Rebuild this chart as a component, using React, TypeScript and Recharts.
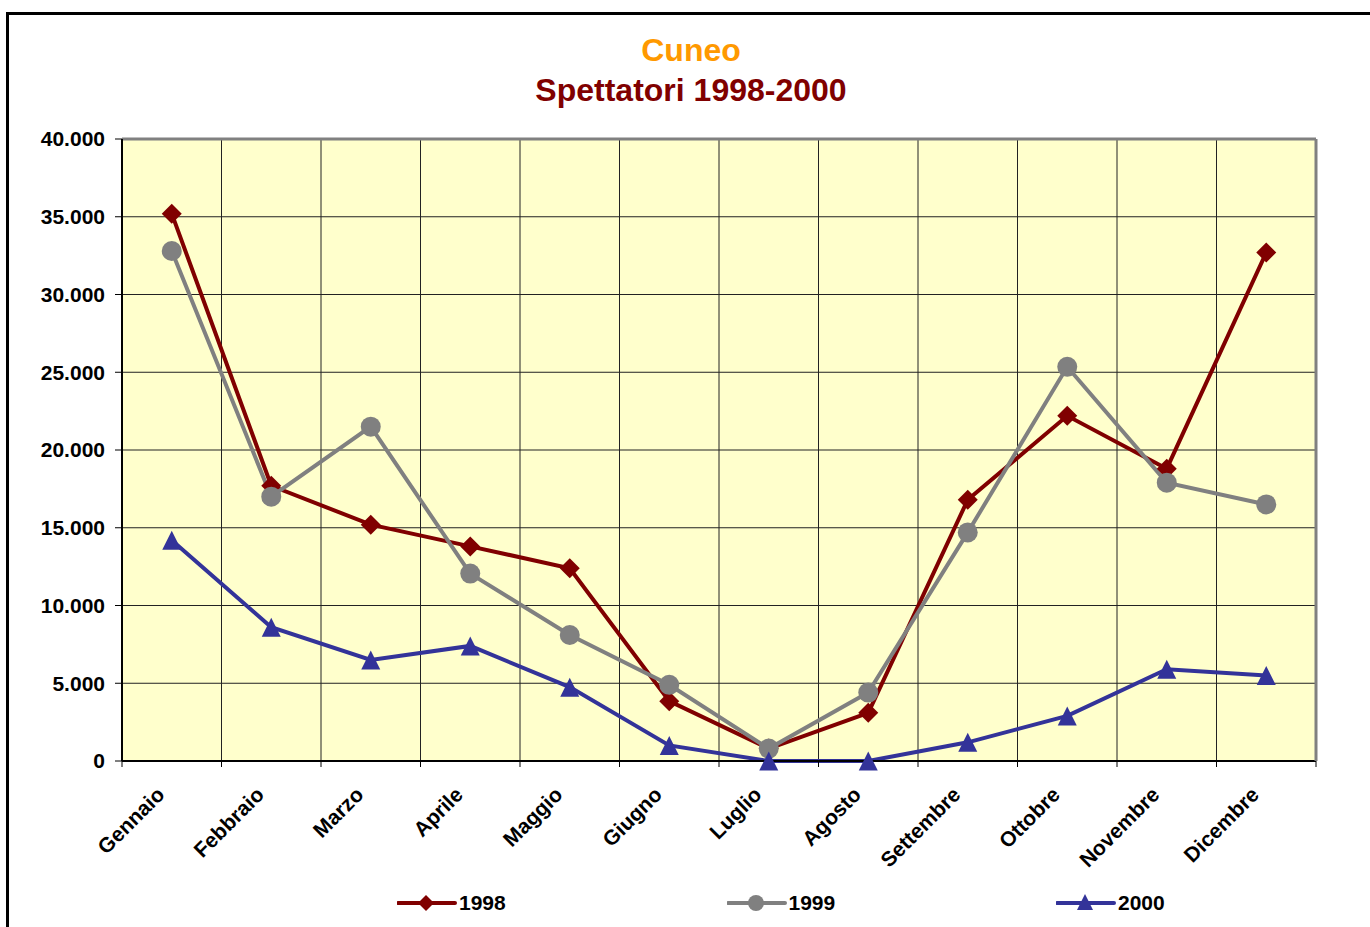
import React from 'react';
import { LineChart, Line, XAxis, YAxis, CartesianGrid } from 'recharts';

const months = ['Gennaio', 'Febbraio', 'Marzo', 'Aprile', 'Maggio', 'Giugno', 'Luglio', 'Agosto', 'Settembre', 'Ottobre', 'Novembre', 'Dicembre'];
const v1998 = [35200, 17700, 15200, 13800, 12400, 3850, 800, 3100, 16800, 22200, 18800, 32700];
const v1999 = [32800, 17000, 21500, 12050, 8100, 4900, 800, 4400, 14700, 25350, 17900, 16500];
const v2000 = [14200, 8600, 6500, 7400, 4750, 1000, 0, 0, 1200, 2900, 5900, 5500];
const yTicks = [0, 5000, 10000, 15000, 20000, 25000, 30000, 35000, 40000];
const yTickLabels = ['0', '5.000', '10.000', '15.000', '20.000', '25.000', '30.000', '35.000', '40.000'];
const seriesNames = ['1998', '1999', '2000'];
const titleLine1 = 'Cuneo';
const titleLine2 = 'Spettatori 1998-2000';

const data = months.map((m, i) => ({ month: m, y1998: v1998[i], y1999: v1999[i], y2000: v2000[i] }));

const FONT = '"Liberation Sans", Arial, Helvetica, sans-serif';
const W = 1370;
const H = 927;
const Y_AXIS_W = 122;
const X_AXIS_H = 166;
const TOP_AXIS_H = 1;
const RIGHT_AXIS_W = 1;
const MARGIN = { top: 139 - TOP_AXIS_H, right: 54 - RIGHT_AXIS_W, bottom: 0, left: 0 };
const STEP = (W - Y_AXIS_W - 54) / months.length;

const COLORS = ['#800000', '#808080', '#333399'];
const KEYS = ['y1998', 'y1999', 'y2000'];

const Diamond = ({ cx, cy, r, color }: any) => (
  <polygon points={`${cx},${cy - r} ${cx + r},${cy} ${cx},${cy + r} ${cx - r},${cy}`} fill={color} />
);
const Triangle = ({ cx, cy, r, color }: any) => (
  <polygon points={`${cx},${cy - r} ${cx + r},${cy + r} ${cx - r},${cy + r}`} fill={color} />
);
const Circle = ({ cx, cy, r, color }: any) => <circle cx={cx} cy={cy} r={r} fill={color} />;

const makeDot = (kind: number) => (props: any) => {
  const { cx, cy, index } = props;
  if (cx == null || cy == null) return <g key={index} />;
  if (kind === 0) return <Diamond key={index} cx={cx} cy={cy} r={10} color={COLORS[0]} />;
  if (kind === 1) return <Circle key={index} cx={cx} cy={cy} r={10} color={COLORS[1]} />;
  return <Triangle key={index} cx={cx} cy={cy} r={9.5} color={COLORS[2]} />;
};

const XTick = (props: any) => {
  const { x, y, payload, index } = props;
  const bx = x - STEP / 2;
  const tx = x - 6;
  const ty = y + 35;
  return (
    <g>
      <line x1={bx} y1={y} x2={bx} y2={y + 6} stroke="#000" strokeWidth={1} />
      {index === months.length - 1 && (
        <line x1={x + STEP / 2} y1={y} x2={x + STEP / 2} y2={y + 6} stroke="#000" strokeWidth={1} />
      )}
      <text
        x={tx}
        y={ty}
        transform={`rotate(-45 ${tx} ${ty})`}
        textAnchor="end"
        fontFamily={FONT}
        fontWeight="bold"
        fontSize={21}
        fill="#000"
      >
        {payload.value}
      </text>
    </g>
  );
};

const LegendMarker = ({ i }: { i: number }) => {
  const cx = 29;
  const cy = 10;
  return (
    <svg width={60} height={20} style={{ display: 'block' }}>
      <line x1={1} y1={cy} x2={58} y2={cy} stroke={COLORS[i]} strokeWidth={4} strokeLinecap="round" />
      {i === 0 && <Diamond cx={cx} cy={cy} r={8} color={COLORS[0]} />}
      {i === 1 && <Circle cx={cx} cy={cy} r={8} color={COLORS[1]} />}
      {i === 2 && <Triangle cx={cx} cy={cy - 1} r={8} color={COLORS[2]} />}
    </svg>
  );
};

export default function App() {
  return (
    <div style={{ position: 'absolute', left: 0, top: 0, width: W, height: H, overflow: 'hidden', background: '#fff' }}>
      <div
        style={{
          position: 'absolute',
          left: 6,
          top: 12,
          width: W + 40,
          height: H + 40,
          border: '3px solid #000',
          boxSizing: 'border-box',
        }}
      />
      <div
        style={{
          position: 'absolute',
          left: 0,
          width: 1382,
          top: 34,
          textAlign: 'center',
          fontFamily: FONT,
          fontWeight: 'bold',
          fontSize: 32,
          lineHeight: '32px',
          color: '#FF9900',
        }}
      >
        {titleLine1}
      </div>
      <div
        style={{
          position: 'absolute',
          left: 0,
          width: 1382,
          top: 74,
          textAlign: 'center',
          fontFamily: FONT,
          fontWeight: 'bold',
          fontSize: 32,
          lineHeight: '32px',
          color: '#800000',
        }}
      >
        {titleLine2}
      </div>
      <div style={{ position: 'absolute', left: 0, top: 0 }}>
        <LineChart width={W} height={H} data={data} margin={MARGIN}>
          <CartesianGrid
            fill="#FFFFCC"
            stroke="#222"
            strokeWidth={1}
            verticalCoordinatesGenerator={({ offset }: any) =>
              months.slice(1).map((_, i) => offset.left + ((i + 1) * offset.width) / months.length)
            }
          />
          <XAxis
            dataKey="month"
            scale="band"
            height={X_AXIS_H}
            interval={0}
            tickLine={false}
            tickSize={0}
            tickMargin={0}
            axisLine={{ stroke: '#000', strokeWidth: 2 }}
            tick={<XTick />}
          />
          <XAxis
            xAxisId="top"
            orientation="top"
            dataKey="month"
            scale="band"
            height={TOP_AXIS_H}
            tick={false}
            tickLine={false}
            axisLine={{ stroke: '#808080', strokeWidth: 3 }}
          />
          <YAxis
            width={Y_AXIS_W}
            domain={[0, 40000]}
            ticks={yTicks}
            interval={0}
            tickFormatter={(v: number) => yTickLabels[yTicks.indexOf(v)]}
            tickSize={7}
            tickMargin={10}
            tickLine={{ stroke: '#000', strokeWidth: 1 }}
            axisLine={{ stroke: '#000', strokeWidth: 2 }}
            tick={{ fontFamily: FONT, fontWeight: 'bold', fontSize: 21, fill: '#000' }}
          />
          <YAxis
            yAxisId="right"
            orientation="right"
            width={RIGHT_AXIS_W}
            domain={[0, 40000]}
            tick={false}
            tickLine={false}
            axisLine={{ stroke: '#808080', strokeWidth: 3 }}
          />
          {KEYS.map((k, i) => (
            <Line
              key={k}
              dataKey={k}
              name={seriesNames[i]}
              type="linear"
              stroke={COLORS[i]}
              strokeWidth={4}
              dot={makeDot(i)}
              activeDot={false}
              isAnimationActive={false}
            />
          ))}
        </LineChart>
      </div>
      {seriesNames.map((n, i) => (
        <div
          key={n}
          style={{
            position: 'absolute',
            left: 397 + i * 329.5,
            top: 893,
            display: 'flex',
            alignItems: 'center',
            height: 20,
          }}
        >
          <LegendMarker i={i} />
          <span
            style={{
              fontFamily: FONT,
              fontWeight: 'bold',
              fontSize: 21,
              lineHeight: '20px',
              color: '#000',
              marginLeft: 2,
            }}
          >
            {n}
          </span>
        </div>
      ))}
    </div>
  );
}
